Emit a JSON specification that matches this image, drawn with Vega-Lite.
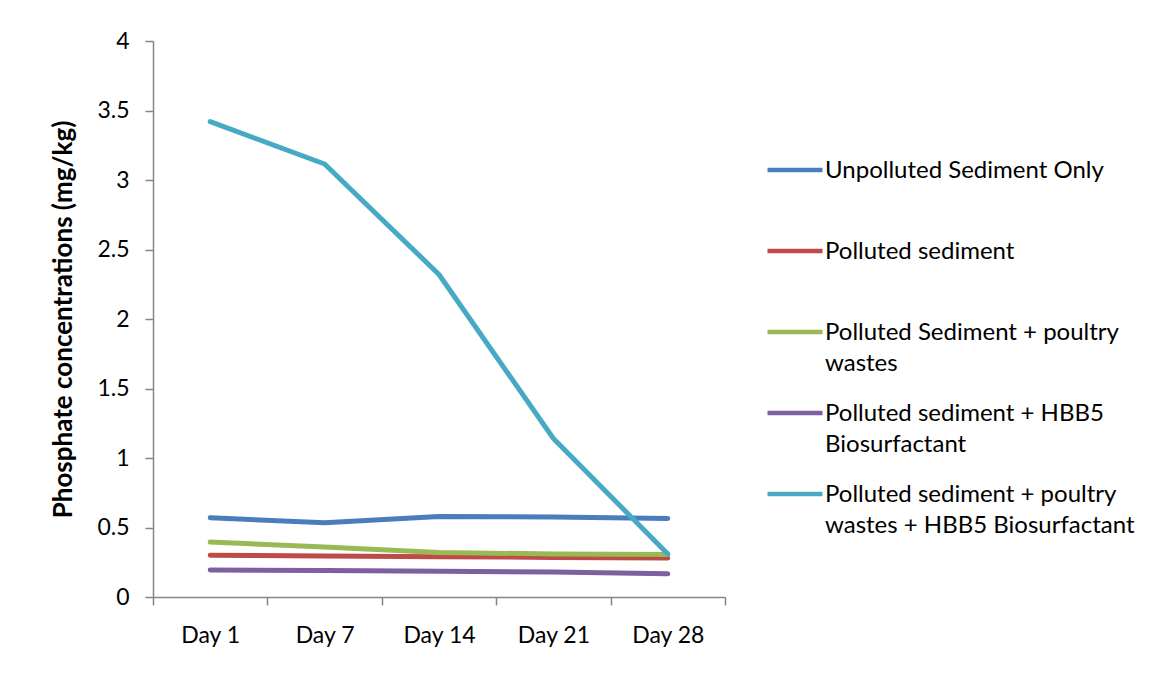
{
  "$schema": "https://vega.github.io/schema/vega-lite/v6.json",
  "autosize": "none",
  "width": 572,
  "height": 556,
  "padding": {"left": 153, "top": 41, "right": 426, "bottom": 80},
  "background": "white",
  "config": {
    "view": {"stroke": null},
    "font": "Lato",
    "axis": {
      "grid": false,
      "domainColor": "#868686",
      "domainWidth": 1.5,
      "tickColor": "#868686",
      "tickWidth": 1.5,
      "tickSize": 8,
      "labelColor": "#000000",
      "labelFont": "Lato",
      "labelFontSize": 23,
      "titleColor": "#000000"
    }
  },
  "data": {
    "values": [
      {"Day": "Day 1", "Series": "Unpolluted Sediment Only", "Phosphate": 0.57},
      {"Day": "Day 7", "Series": "Unpolluted Sediment Only", "Phosphate": 0.535},
      {"Day": "Day 14", "Series": "Unpolluted Sediment Only", "Phosphate": 0.58},
      {"Day": "Day 21", "Series": "Unpolluted Sediment Only", "Phosphate": 0.575},
      {"Day": "Day 28", "Series": "Unpolluted Sediment Only", "Phosphate": 0.565},
      {"Day": "Day 1", "Series": "Polluted sediment", "Phosphate": 0.3},
      {"Day": "Day 7", "Series": "Polluted sediment", "Phosphate": 0.295},
      {"Day": "Day 14", "Series": "Polluted sediment", "Phosphate": 0.29},
      {"Day": "Day 21", "Series": "Polluted sediment", "Phosphate": 0.285},
      {"Day": "Day 28", "Series": "Polluted sediment", "Phosphate": 0.28},
      {"Day": "Day 1", "Series": "Polluted Sediment + poultry wastes", "Phosphate": 0.395},
      {"Day": "Day 7", "Series": "Polluted Sediment + poultry wastes", "Phosphate": 0.36},
      {"Day": "Day 14", "Series": "Polluted Sediment + poultry wastes", "Phosphate": 0.32},
      {"Day": "Day 21", "Series": "Polluted Sediment + poultry wastes", "Phosphate": 0.31},
      {"Day": "Day 28", "Series": "Polluted Sediment + poultry wastes", "Phosphate": 0.305},
      {"Day": "Day 1", "Series": "Polluted sediment + HBB5 Biosurfactant", "Phosphate": 0.195},
      {"Day": "Day 7", "Series": "Polluted sediment + HBB5 Biosurfactant", "Phosphate": 0.19},
      {"Day": "Day 14", "Series": "Polluted sediment + HBB5 Biosurfactant", "Phosphate": 0.185},
      {"Day": "Day 21", "Series": "Polluted sediment + HBB5 Biosurfactant", "Phosphate": 0.18},
      {"Day": "Day 28", "Series": "Polluted sediment + HBB5 Biosurfactant", "Phosphate": 0.168},
      {"Day": "Day 1", "Series": "Polluted sediment + poultry wastes + HBB5 Biosurfactant", "Phosphate": 3.42},
      {"Day": "Day 7", "Series": "Polluted sediment + poultry wastes + HBB5 Biosurfactant", "Phosphate": 3.115},
      {"Day": "Day 14", "Series": "Polluted sediment + poultry wastes + HBB5 Biosurfactant", "Phosphate": 2.32},
      {"Day": "Day 21", "Series": "Polluted sediment + poultry wastes + HBB5 Biosurfactant", "Phosphate": 1.14},
      {"Day": "Day 28", "Series": "Polluted sediment + poultry wastes + HBB5 Biosurfactant", "Phosphate": 0.31}
    ]
  },
  "mark": {"type": "line", "strokeWidth": 5, "strokeCap": "round", "strokeJoin": "round"},
  "encoding": {
    "x": {
      "field": "Day",
      "type": "nominal",
      "sort": ["Day 1", "Day 7", "Day 14", "Day 21", "Day 28"],
      "scale": {"paddingInner": 0, "paddingOuter": 0},
      "axis": {
        "title": null,
        "labelAngle": 0,
        "tickBand": "extent",
        "labelPadding": 19
      }
    },
    "y": {
      "field": "Phosphate",
      "type": "quantitative",
      "scale": {"domain": [0, 4], "nice": false, "zero": true},
      "axis": {
        "title": "Phosphate concentrations (mg/kg)",
        "titleFont": "Lato",
        "titleFontSize": 26,
        "titleFontWeight": "bold",
        "titlePadding": 20,
        "values": [0, 0.5, 1, 1.5, 2, 2.5, 3, 3.5, 4],
        "format": "~f",
        "labelPadding": 16
      }
    },
    "color": {
      "field": "Series",
      "type": "nominal",
      "sort": [
        "Unpolluted Sediment Only",
        "Polluted sediment",
        "Polluted Sediment + poultry wastes",
        "Polluted sediment + HBB5 Biosurfactant",
        "Polluted sediment + poultry wastes + HBB5 Biosurfactant"
      ],
      "scale": {
        "domain": [
          "Unpolluted Sediment Only",
          "Polluted sediment",
          "Polluted Sediment + poultry wastes",
          "Polluted sediment + HBB5 Biosurfactant",
          "Polluted sediment + poultry wastes + HBB5 Biosurfactant"
        ],
        "range": ["#4A7EBB", "#BE4B48", "#98B954", "#7D60A0", "#46AAC5"]
      },
      "legend": {
        "title": null,
        "orient": "none",
        "legendX": 612,
        "legendY": 99,
        "symbolType": "stroke",
        "symbolSize": 3025,
        "symbolStrokeWidth": 4.5,
        "labelFont": "Lato",
        "labelFontSize": 24,
        "labelColor": "#000000",
        "labelLimit": 400,
        "labelOffset": 0,
        "labelBaseline": "alphabetic",
        "gridAlign": "all",
        "rowPadding": 7,
        "labelExpr": "datum.label == 'Polluted Sediment + poultry wastes' ? ['Polluted Sediment + poultry', 'wastes'] : datum.label == 'Polluted sediment + HBB5 Biosurfactant' ? ['Polluted sediment + HBB5', 'Biosurfactant'] : datum.label == 'Polluted sediment + poultry wastes + HBB5 Biosurfactant' ? ['Polluted sediment + poultry', 'wastes + HBB5 Biosurfactant'] : [datum.label, '']",
        "encode": {
          "labels": {"update": {"lineHeight": {"value": 31}, "dy": {"value": 8}}}
        }
      }
    }
  }
}
